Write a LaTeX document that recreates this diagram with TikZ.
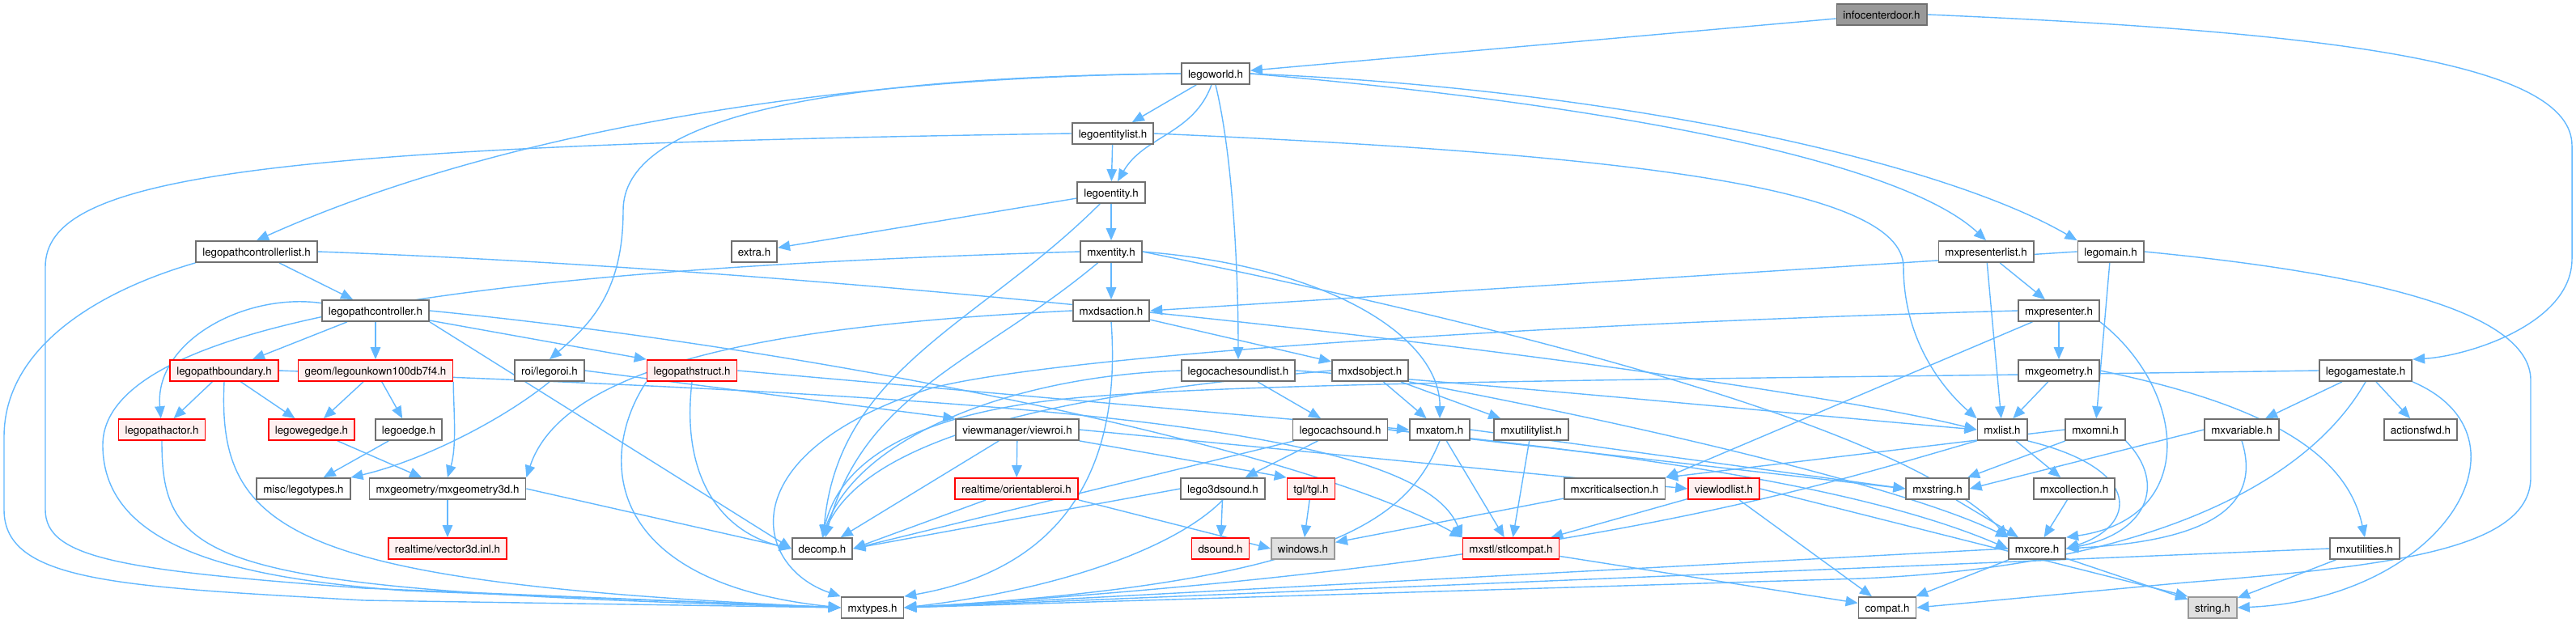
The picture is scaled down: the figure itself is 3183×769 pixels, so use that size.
\documentclass[tikz,border=0pt]{standalone}
\usepackage{fontspec}
\setmainfont{TeX Gyre Heros}
\usepackage{tikz}
\usetikzlibrary{arrows.meta}
\pgfdeclarelayer{bg}
\pgfsetlayers{bg,main}
\definecolor{edgeblue}{HTML}{63B8FF}
\definecolor{boxgray}{HTML}{707070}
\definecolor{redfill}{HTML}{FFF0F0}
\definecolor{curfill}{HTML}{999999}
\definecolor{sysfill}{HTML}{E0E0E0}
\definecolor{sysline}{HTML}{999999}
\tikzset{box/.style={draw=boxgray, fill=white, line width=1pt, inner xsep=0.16cm, inner ysep=0pt,
                     minimum height=0.52cm, text height=1.6ex, text depth=0.4ex,
                     font=\fontsize{7.6}{9}\selectfont},
         redbox/.style={box, draw=red, fill=redfill},
         curbox/.style={box, fill=curfill},
         sysbox/.style={box, draw=sysline, fill=sysfill},
         dep/.style={draw=edgeblue, line width=0.8pt, -{Triangle[length=0.3cm, width=0.25cm]}}}

\begin{document}
\begin{tikzpicture}[x=0.02cm, y=-0.02cm]
    \useasboundingbox (0,0) rectangle (3183,769);

    \node (infocenterdoor) at (2325,18) [curbox] {infocenterdoor.h};
    \node (legoworld) at (1502,91) [box] {legoworld.h};
    \node (legoentitylist) at (1375,165) [box] {legoentitylist.h};
    \node (legoentity) at (1373,238) [box] {legoentity.h};

    \node (legopathcontrollerlist) at (317,311) [box] {legopathcontrollerlist.h};
    \node (extra) at (932,311) [box] {extra.h};
    \node (mxentity) at (1373,311) [box] {mxentity.h};
    \node (mxpresenterlist) at (2454,311) [box] {mxpresenterlist.h};
    \node (legomain) at (2608,311) [box] {legomain.h};

    \node (legopathcontroller) at (464,384) [box] {legopathcontroller.h};
    \node (mxdsaction) at (1373,384) [box] {mxdsaction.h};
    \node (mxpresenter) at (2544,384) [box] {mxpresenter.h};

    \node (legopathboundary) at (277,458) [redbox] {legopathboundary.h};
    \node (legounkown) at (464,458) [redbox] {geom/legounkown100db7f4.h};
    \node (legoroi) at (679,458) [box] {roi/legoroi.h};
    \node (legopathstruct) at (855,458) [redbox] {legopathstruct.h};
    \node (legocachesoundlist) at (1530,458) [box] {legocachesoundlist.h};
    \node (mxdsobject) at (1693,458) [box] {mxdsobject.h};
    \node (mxgeometry) at (2544,458) [box] {mxgeometry.h};
    \node (legogamestate) at (2923,458) [box] {legogamestate.h};

    \node (legopathactor) at (200,531) [redbox] {legopathactor.h};
    \node (legowegedge) at (385,531) [redbox] {legowegedge.h};
    \node (legoedge) at (505,531) [box] {legoedge.h};
    \node (viewroi) at (1257,531) [box] {viewmanager/viewroi.h};
    \node (legocachsound) at (1656,531) [box] {legocachsound.h};
    \node (mxatom) at (1779,531) [box] {mxatom.h};
    \node (mxutilitylist) at (1892,531) [box] {mxutilitylist.h};
    \node (mxlist) at (2474,531) [box] {mxlist.h};
    \node (mxomni) at (2589,531) [box] {mxomni.h};
    \node (mxvariable) at (2770,531) [box] {mxvariable.h};
    \node (actionsfwd) at (2991,531) [box] {actionsfwd.h};

    \node (legotypes) at (375,604) [box] {misc/legotypes.h};
    \node (mxgeometry3d) at (553,604) [box] {mxgeometry/mxgeometry3d.h};
    \node (orientableroi) at (1256,604) [redbox] {realtime/orientableroi.h};
    \node (lego3dsound) at (1511,604) [box] {lego3dsound.h};
    \node (tgl) at (1620,604) [redbox] {tgl/tgl.h};
    \node (mxcriticalsection) at (1995,604) [box] {mxcriticalsection.h};
    \node (viewlodlist) at (2130,604) [redbox] {viewlodlist.h};
    \node (mxstring) at (2394,604) [box] {mxstring.h};
    \node (mxcollection) at (2563,604) [box] {mxcollection.h};

    \node (vector3d) at (553,678) [redbox] {realtime/vector3d.inl.h};
    \node (decomp) at (1016,678) [box] {decomp.h};
    \node (dsound) at (1508,678) [redbox] {dsound.h};
    \node (windows) at (1610,678) [sysbox] {windows.h};
    \node (stlcompat) at (1867,678) [redbox] {mxstl/stlcompat.h};
    \node (mxcore) at (2517,678) [box] {mxcore.h};
    \node (mxutilities) at (2922,678) [box] {mxutilities.h};

    \node (mxtypes) at (1078,751) [box] {mxtypes.h};
    \node (compat) at (2332,751) [box] {compat.h};
    \node (string) at (2734,751) [sysbox] {string.h};

    \begin{pgfonlayer}{bg}
        % top of the graph
        \draw (infocenterdoor) edge[dep] (legoworld);
        \draw[dep] (infocenterdoor.east) .. controls (2900,40) and (3178,80) .. (3178,180) -- (3178,320)
            .. controls (3178,400) and (3050,440) .. (legogamestate.north east);
        \draw (legoworld) edge[dep] (legoentitylist);
        \draw (legoworld) edge[dep, out=-110, in=60] (legoentity);
        \draw[dep] (legoworld.west) .. controls (1000,95) and (600,170) .. (legopathcontrollerlist.north);
        \draw[dep] (legoworld.west) .. controls (1000,95) and (770,150) .. (770,260)
            .. controls (770,360) and (730,400) .. (legoroi.north);
        \draw[dep] (legoworld.south) .. controls (1525,200) and (1530,350) .. (legocachesoundlist.north);
        \draw[dep] (legoworld.east) .. controls (2000,130) and (2350,200) .. (mxpresenterlist.north);
        \draw[dep] (legoworld.east) .. controls (2000,110) and (2400,200) .. (legomain.north west);

        \draw (legoentitylist) edge[dep] (legoentity);
        \draw[dep] (legoentitylist.east) .. controls (2000,190) and (2352,230) .. (2352,330)
            .. controls (2352,420) and (2400,480) .. (mxlist.north west);
        \draw[dep] (legoentitylist.west) .. controls (300,180) and (56,220) .. (56,330) -- (56,630)
            .. controls (56,690) and (150,705) .. (450,727) -- (mxtypes.west);

        \draw (legoentity) edge[dep] (extra);
        \draw (legoentity) edge[dep] (mxentity);
        \draw (legoentity) edge[dep, out=-135, in=85] (decomp);

        \draw (mxentity) edge[dep] (mxdsaction);
        \draw (mxentity) edge[dep, out=-140, in=75] (decomp);
        \draw[dep] (mxentity.east) .. controls (1650,330) and (1780,420) .. (mxatom.north);
        \draw[dep] (mxentity.east) .. controls (1800,390) and (2350,520) .. (mxcore.north west);
        \draw[dep] (mxentity.west) .. controls (700,330) and (127,380) .. (127,550)
            .. controls (127,680) and (300,715) .. (500,730) -- (mxtypes.west);

        % left part
        \draw (legopathcontrollerlist) edge[dep] (legopathcontroller);
        \draw[dep] (legopathcontrollerlist.south west) .. controls (120,360) and (5,430) .. (5,540) -- (5,630)
            .. controls (5,720) and (150,725) .. (450,742) -- (mxtypes.west);
        \draw[dep] (legopathcontrollerlist.east) .. controls (1200,340) and (2200,470) .. (mxlist.west);

        \draw (legopathcontroller) edge[dep] (legopathboundary);
        \draw (legopathcontroller) edge[dep] (legounkown);
        \draw (legopathcontroller) edge[dep, out=172, in=95] (legopathactor);
        \draw (legopathcontroller) edge[dep] (legopathstruct.north west);
        \draw (legopathcontroller.south east) edge[dep] (decomp.west);
        \draw[dep] (legopathcontroller.east) .. controls (1000,430) and (1600,550) .. (stlcompat.north west);

        \draw (legopathboundary) edge[dep] (legopathactor);
        \draw (legopathboundary) edge[dep] (legowegedge);
        \draw[dep] (legopathboundary.south) .. controls (268,660) and (360,720) .. (mxtypes.west);
        \draw[dep] (legopathboundary.east) .. controls (1200,490) and (1750,520) .. (stlcompat.north west);

        \draw (legounkown) edge[dep] (legowegedge);
        \draw (legounkown) edge[dep] (legoedge);
        \draw[dep] (legounkown.south east) .. controls (560,500) and (565,550) .. (mxgeometry3d.north);

        \draw[dep] (legoroi.south) .. controls (620,520) and (520,570) .. (legotypes.north east);
        \draw (legoroi.east) edge[dep] (viewroi.north west);

        \draw[dep] (legopathstruct.south) .. controls (840,600) and (900,660) .. (decomp.west);
        \draw[dep] (legopathstruct.south west) .. controls (740,560) and (740,720) .. (mxtypes.west);
        \draw (legopathstruct.east) edge[dep] (mxatom.west);

        \draw[dep] (legopathactor.south) .. controls (200,700) and (260,730) .. (mxtypes.west);
        \draw (legowegedge) edge[dep] (mxgeometry3d);
        \draw (legoedge) edge[dep] (legotypes);
        \draw (mxgeometry3d) edge[dep] (vector3d);
        \draw (mxgeometry3d.east) edge[dep] (decomp.west);

        % middle part
        \draw (mxdsaction) edge[dep] (mxdsobject);
        \draw[dep] (mxdsaction.south) .. controls (1385,560) and (1330,700) .. (mxtypes.north east);
        \draw[dep] (mxdsaction.west) .. controls (1000,400) and (700,440) .. (mxgeometry3d.north east);

        \draw (mxdsobject) edge[dep] (mxatom);
        \draw (mxdsobject) edge[dep] (mxutilitylist);
        \draw[dep] (mxdsobject.west) .. controls (1400,480) and (1080,520) .. (decomp.north);
        \draw[dep] (mxdsobject.south east) .. controls (2000,520) and (2350,600) .. (mxcore.north west);

        \draw (legocachesoundlist) edge[dep] (legocachsound);
        \draw[dep] (legocachesoundlist.east) .. controls (1900,480) and (2200,510) .. (mxlist.west);
        \draw[dep] (legocachesoundlist.west) .. controls (1250,465) and (1060,540) .. (decomp.north);

        \draw (legocachsound) edge[dep] (lego3dsound);
        \draw (legocachsound) edge[dep] (decomp.east);
        \draw (legocachsound.east) edge[dep] (mxstring.west);
        \draw[dep] (legocachsound.east) .. controls (2000,560) and (2300,600) .. (mxcore.west);

        \draw (lego3dsound) edge[dep] (dsound);
        \draw (lego3dsound.west) edge[dep] (decomp.east);
        \draw[dep] (lego3dsound.south) .. controls (1450,680) and (1300,730) .. (mxtypes.east);

        \draw (viewroi) edge[dep] (orientableroi);
        \draw (viewroi) edge[dep] (decomp);
        \draw (viewroi.south east) edge[dep] (tgl.north west);
        \draw (viewroi.east) edge[dep] (viewlodlist.west);
        \draw (orientableroi) edge[dep] (decomp.east);
        \draw (orientableroi.south east) edge[dep] (windows.west);
        \draw (tgl) edge[dep] (windows);

        \draw (mxatom) edge[dep] (stlcompat);
        \draw[dep] (mxatom.south) .. controls (1740,640) and (1650,720) .. (mxtypes.east);
        \draw (mxatom.east) edge[dep] (mxstring.west);
        \draw (mxutilitylist) edge[dep] (stlcompat);

        % right part
        \draw (legomain.west) edge[dep] (mxdsaction.east);
        \draw (legomain) edge[dep] (mxomni);
        \draw[dep] (legomain.east) .. controls (2950,340) and (3127,390) .. (3127,470) -- (3127,590)
            .. controls (3127,680) and (2950,700) .. (2700,720) -- (compat.east);

        \draw (mxpresenterlist) edge[dep] (mxpresenter);
        \draw (mxpresenterlist) edge[dep] (mxlist);
        \draw (mxpresenter) edge[dep] (mxgeometry);
        \draw (mxpresenter) edge[dep] (mxcriticalsection.north east);
        \draw[dep] (mxpresenter.south east) .. controls (2700,480) and (2720,640) .. (mxcore.north east);
        \draw[dep] (mxpresenter.west) .. controls (1900,400) and (1300,440) .. (1150,480)
            .. controls (900,560) and (930,700) .. (mxtypes.north west);

        \draw (mxgeometry) edge[dep] (mxlist);
        \draw[dep] (mxgeometry.east) .. controls (2800,500) and (2900,560) .. (mxutilities.north);

        \draw (legogamestate) edge[dep] (mxvariable);
        \draw (legogamestate) edge[dep] (actionsfwd);
        \draw[dep] (legogamestate.south) .. controls (2850,600) and (2650,700) .. (2300,715) -- (mxtypes.east);
        \draw[dep] (legogamestate.west) .. controls (2200,468) and (1600,470) .. (1350,490)
            .. controls (1150,505) and (1040,560) .. (decomp.north);
        \draw[dep] (legogamestate.south east) .. controls (3140,540) and (3020,740) .. (string.east);

        \draw (mxlist) edge[dep] (mxcollection);
        \draw[dep] (mxlist.south east) .. controls (2650,580) and (2640,650) .. (mxcore.east);
        \draw[dep] (mxlist.south west) .. controls (2250,600) and (1950,700) .. (mxtypes.east);
        \draw (mxomni.west) edge[dep] (mxcriticalsection.north east);
        \draw (mxomni) edge[dep] (mxstring);
        \draw[dep] (mxomni.south east) .. controls (2680,600) and (2650,660) .. (mxcore.east);
        \draw (mxvariable.west) edge[dep] (mxstring.east);
        \draw[dep] (mxvariable.south) .. controls (2800,640) and (2700,670) .. (mxcore.east);

        % bottom rows
        \draw (mxcollection) edge[dep] (mxcore);
        \draw (mxstring) edge[dep] (mxcore);
        \draw (mxcriticalsection) edge[dep] (windows);
        \draw (viewlodlist) edge[dep] (stlcompat);
        \draw (viewlodlist) edge[dep] (compat);
        \draw (viewlodlist.east) edge[dep] (string.north west);
        \draw (stlcompat) edge[dep] (compat);
        \draw (mxcore) edge[dep] (compat);
        \draw (mxcore) edge[dep] (string);
        \draw (mxcore.west) edge[dep] (mxtypes.east);
        \draw (mxutilities.west) edge[dep] (mxtypes.east);
        \draw (mxutilities) edge[dep] (string);
    \end{pgfonlayer}
\end{tikzpicture}
\end{document}
